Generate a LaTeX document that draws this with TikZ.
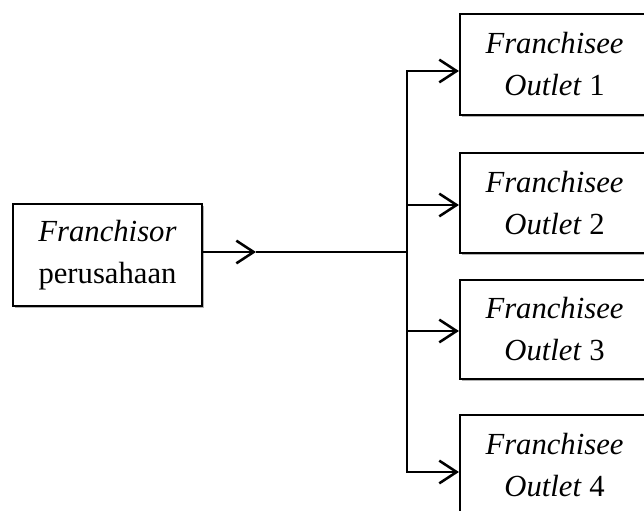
\documentclass[tikz,border=0pt]{standalone}
\usepackage{fontspec}
\setmainfont{Liberation Serif}
\usetikzlibrary{arrows.meta,shadows}
\begin{document}
\begin{tikzpicture}[x=0.75pt,y=-0.75pt,
  box/.style={draw=black,line width=1.6pt,fill=white,minimum width=141.75pt,
    align=center,inner sep=0pt,font=\fontsize{23}{31.5}\selectfont,
    drop shadow={shadow xshift=1.5pt,shadow yshift=-1.8pt,fill=black!55,opacity=0.55}},
  conn/.style={line width=1.9pt},
  arr/.style={conn,-{Straight Barb[length=13pt,width=17pt,line width=1.9pt]}}]
\useasboundingbox (0,0) rectangle (644,511);
\clip (0,0) rectangle (644,511);
\node[box,minimum height=76.5pt] (src) at (107.5,255) {\textit{Franchisor}\\perusahaan};
\node[box,minimum height=75.75pt] (o1) at (554.5,64.5) {\textit{Franchisee}\\\textit{Outlet} 1};
\node[box,minimum height=75pt] (o2) at (554.5,203) {\textit{Franchisee}\\\textit{Outlet} 2};
\node[box,minimum height=74.25pt] (o3) at (554.5,329.5) {\textit{Franchisee}\\\textit{Outlet} 3};
\node[box,minimum height=75.75pt] (o4) at (554.5,465.5) {\textit{Franchisee}\\\textit{Outlet} 4};
\coordinate (m) at (256,252);
\coordinate (j) at (407,252);
\coordinate (t1) at (407,71);
\coordinate (t2) at (407,205);
\coordinate (t3) at (407,331);
\coordinate (t4) at (407,472);
\draw[arr] (src.east |- m) -- (m);
\draw[conn] (m) -- (j);
\draw[conn,line cap=rect] (t1) -- (t4);
\draw[arr] (t1) -- (o1.west |- t1);
\draw[arr] (t2) -- (o2.west |- t2);
\draw[arr] (t3) -- (o3.west |- t3);
\draw[arr] (t4) -- (o4.west |- t4);
\end{tikzpicture}
\end{document}
